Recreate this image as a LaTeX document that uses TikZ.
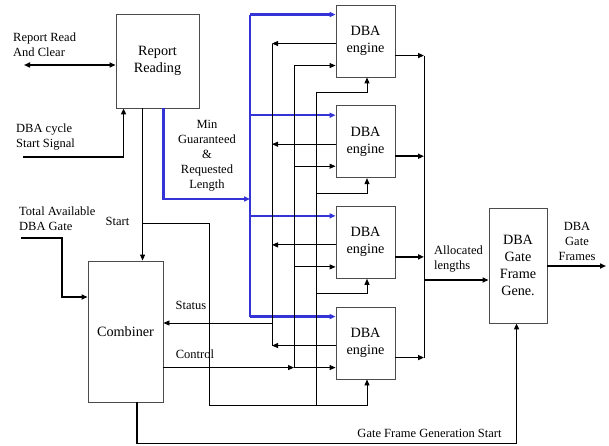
\documentclass[tikz,border=0pt]{standalone}
\usepackage{fontspec}
\setmainfont{Liberation Serif}
\usetikzlibrary{arrows.meta,calc}
\definecolor{busblue}{RGB}{51,51,214}
\begin{document}
\begin{tikzpicture}[x=1pt,y=-1pt,
  box/.style={draw=black!70, line width=0.9pt, inner sep=0pt, align=center, font=\fontsize{14.2}{17}\selectfont},
  lbl/.style={inner sep=0pt, font=\fontsize{12.5}{15}\selectfont},
  thinln/.style={line width=0.9pt},
  thkln/.style={line width=1.5pt},
  blueln/.style={draw=busblue, line width=2.4pt},
  arr/.style={-{Triangle[length=6pt,width=5pt]}},
  darr/.style={{Triangle[length=6pt,width=5pt]}-{Triangle[length=6pt,width=5pt]}},
]
\useasboundingbox (0,0) rectangle (609,446);

% boxes
\node[box, minimum width=83pt, minimum height=94pt] (rr) at (157.5,61) {Report\\Reading};
\node[box, minimum width=75pt, minimum height=141pt] (cmb) at (125.5,331.5) {Combiner};
\node[box, minimum width=58pt, minimum height=115pt] (gf) at (518,265.5) {DBA\\Gate\\Frame\\Gene.};
\foreach \i in {1,...,4}
  \node[box, minimum width=59pt, minimum height=72pt] (e\i) at (365.5,{41+(\i-1)*100.67}) {DBA\\engine};

% bus x positions
\coordinate (xb) at (250,0);
\coordinate (xs) at (272,0);
\coordinate (xc) at (294,0);
\coordinate (xt) at (316,0);
\coordinate (xa) at (424,0);

% engine ports
\foreach \i in {1,...,4} {
  \coordinate (eb\i) at ($(e\i.north west)+(0,10)$);
  \coordinate (es\i) at ($(e\i.north west)+(0,39)$);
  \coordinate (ec\i) at ($(e\i.north west)+(0,61)$);
  \coordinate (eo\i) at ($(e\i.north east)+(0,51)$);
  \coordinate (ed\i) at ($(e\i.south)+(1.5,0)$);
  \coordinate (et\i) at ($(e\i.south)+(1.5,15)$);
}
\coordinate (st4) at ($(e4.south)+(1.5,26)$);

% engine connections
\foreach \i in {1,...,4} {
  \draw[blueln, arr] (xb |- eb\i) -- (eb\i);
  \draw[thinln, arr] (es\i) -- (xs |- es\i);
  \draw[thinln, arr] (xc |- ec\i) -- (ec\i);
  \draw[thkln, arr] (eo\i) -- (xa |- eo\i);
}
\foreach \i in {1,2,3}
  \draw[thinln, arr] (xt |- et\i) -| (ed\i);

% buses
\draw[blueln] (xb |- eb1) -- (xb |- eb4);
\draw[thinln] (xs |- es1) -- (xs |- es4);
\draw[thinln] (xc |- ec1) -- (xc |- ec4);
\draw[thinln] (xt |- et1) -- (xt |- st4);
\draw[thinln] (xa |- eo1) -- (xa |- eo4);

% report reading I/O
\coordinate (rrl) at (24,65);
\draw[thkln, darr] (rrl) -- (rrl -| rr.west);
\coordinate (dcs) at (23,157);
\coordinate (rrc) at ($(rr.south west)+(8,0)$);
\draw[thkln, arr] (dcs) -| (rrc);

% blue from report reading
\coordinate (rrb) at ($(rr.south west)+(48,0)$);
\coordinate (bj) at (250,199);
\draw[blueln, arr] (rrb) |- (bj);

% start
\coordinate (rrs) at ($(rr.south west)+(27,0)$);
\draw[line width=1.2pt, arr] (rrs) -- (rrs |- cmb.north);
\coordinate (sj) at ($(rrs)+(0,115)$);
\coordinate (sk) at (209,0);
\draw[thinln, arr] (sj) -| (sk |- st4) -| (ed4);

% status & control
\coordinate (stj) at (272,323);
\draw[thinln, arr] (stj) -- (stj -| cmb.east);
\draw[thinln, arr] (ec4 -| cmb.east) -- (xc |- ec4);

% total available
\coordinate (tot) at (21,238);
\coordinate (tk) at (62,297);
\draw[thkln, arr] (tot) -| (tk) -- (tk -| cmb.west);

% gate frame generation start
\coordinate (cb) at ($(cmb.south west)+(49.5,0)$);
\coordinate (gfb) at ($(gf.south west)+(28,0)$);
\draw[thkln, arr] (cb) -- ++(0,41) -| (gfb);

% allocated
\coordinate (al) at (424,280);
\draw[thkln, arr] (al) -- (al -| gf.west);
\coordinate (gout) at (606,266);
\draw[thkln, arr] (gout -| gf.east) -- (gout);

% labels
\node[lbl, anchor=west, align=left] (l1) at (13,45) {Report Read\\And Clear};
\node[lbl, anchor=west, align=left] (l2) at (16,137.5) {DBA cycle\\Start Signal};
\node[lbl, anchor=west, align=left] (l3) at (19,218.5) {Total Available\\DBA Gate};
\node[lbl] (l4) at (117.5,221) {Start};
\node[lbl, align=center] (l5) at (207,156) {Min\\Guaranteed\\\&\\Requested\\Length};
\node[lbl] (l6) at (191,305) {Status};
\node[lbl] (l7) at (195,354) {Control};
\node[lbl, anchor=west, align=left] (l8) at (434,259) {Allocated\\lengths};
\node[lbl, align=center] (l9) at (577,241) {DBA\\Gate\\Frames};
\node[lbl] (l10) at (429.5,433) {Gate Frame Generation Start};
\end{tikzpicture}
\end{document}
